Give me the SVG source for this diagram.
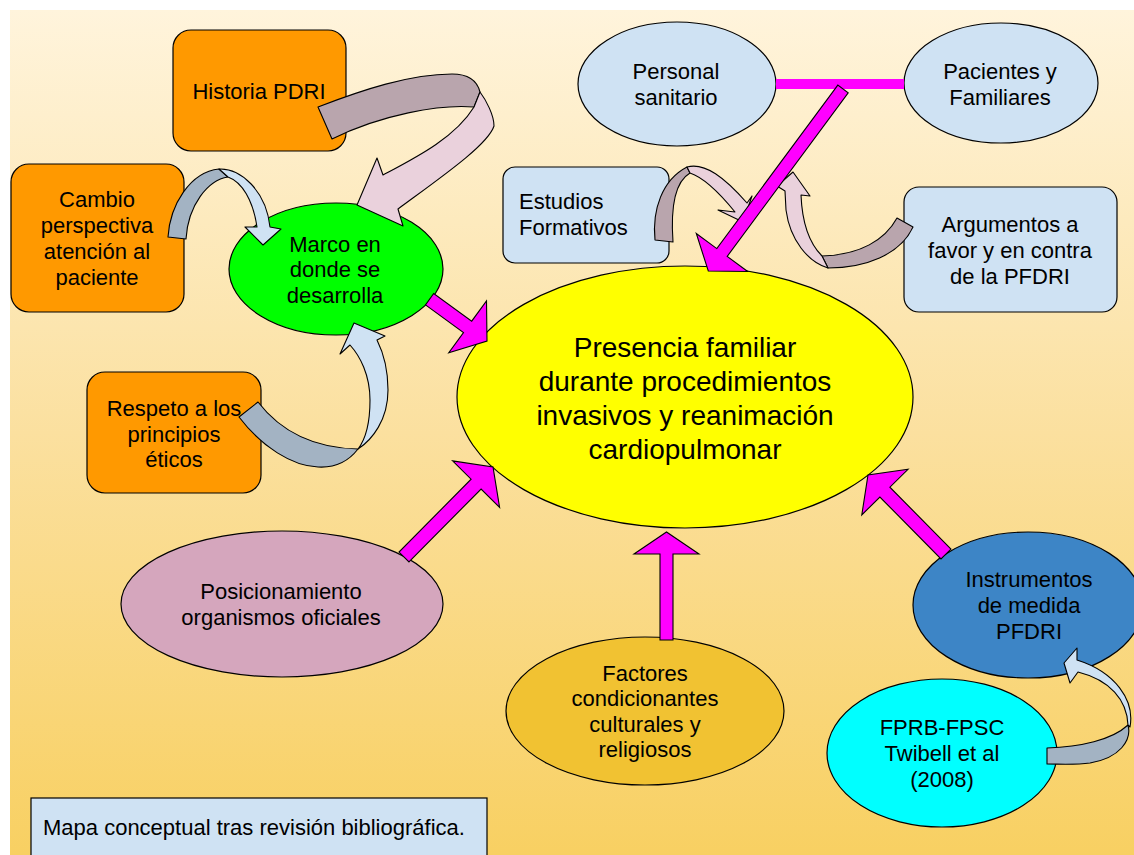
<svg xmlns="http://www.w3.org/2000/svg" width="1134" height="855" viewBox="0 0 1134 855">
  <defs>
    <linearGradient id="bg" x1="0" y1="0" x2="0" y2="1">
      <stop offset="0" stop-color="#fff4dc"/>
      <stop offset="0.5" stop-color="#fbe09f"/>
      <stop offset="1" stop-color="#f8d062"/>
    </linearGradient>
    <style>
      .node { stroke: #000; stroke-width: 1.2; }
      .lbl { font-family: "Liberation Sans", Arial, sans-serif; font-size: 22px; fill: #000; text-anchor: middle; }
      .big { font-size: 28px; }
      .left { text-anchor: start; }
      .orange { fill: #ff9900; }
      .pale { fill: #cfe2f3; }
      .arrow { fill: #ff00ff; stroke: #000; stroke-width: 1.1; stroke-linejoin: miter; }
      .c-back { fill: #b9a5ad; stroke: #000; stroke-width: 1.1; stroke-linejoin: round; }
      .c-front { fill: #ead1dc; stroke: #000; stroke-width: 1.1; stroke-linejoin: round; }
      .b-back { fill: #a3b3c3; stroke: #000; stroke-width: 1.1; stroke-linejoin: round; }
      .b-front { fill: #cfe2f3; stroke: #000; stroke-width: 1.1; stroke-linejoin: round; }
    </style>
  </defs>

  <!-- page -->
  <rect x="0" y="0" width="1134" height="855" fill="#ffffff"/>
  <rect x="10" y="10" width="1124" height="845" fill="url(#bg)"/>

  <!-- nodes -->
  <g id="central">
    <ellipse class="node" cx="685" cy="397" rx="228" ry="131" fill="#ffff00"/>
    <text class="lbl big" x="685"><tspan x="685" y="357">Presencia familiar</tspan><tspan x="685" y="391">durante procedimientos</tspan><tspan x="685" y="425">invasivos y reanimación</tspan><tspan x="685" y="459">cardiopulmonar</tspan></text>
  </g>

  <g id="historia">
    <rect class="node orange" x="173" y="30" width="173" height="121" rx="18"/>
    <text class="lbl" x="259" y="99">Historia PDRI</text>
  </g>

  <g id="cambio">
    <rect class="node orange" x="11" y="164" width="173" height="148" rx="18"/>
    <text class="lbl"><tspan x="97" y="207">Cambio</tspan><tspan x="97" y="233">perspectiva</tspan><tspan x="97" y="259">atención al</tspan><tspan x="97" y="285">paciente</tspan></text>
  </g>

  <g id="marco">
    <ellipse class="node" cx="336" cy="269" rx="107" ry="66" fill="#00ff00"/>
    <text class="lbl"><tspan x="335" y="252">Marco en</tspan><tspan x="335" y="277">donde se</tspan><tspan x="335" y="303">desarrolla</tspan></text>
  </g>

  <g id="respeto">
    <rect class="node orange" x="87" y="372" width="174" height="121" rx="18"/>
    <text class="lbl"><tspan x="174" y="416">Respeto a los</tspan><tspan x="174" y="442">principios</tspan><tspan x="174" y="467">éticos</tspan></text>
  </g>

  <g id="posicionamiento">
    <ellipse class="node" cx="282" cy="604" rx="161" ry="73" fill="#d5a6bd"/>
    <text class="lbl"><tspan x="281" y="599">Posicionamiento</tspan><tspan x="281" y="625">organismos oficiales</tspan></text>
  </g>

  <g id="factores">
    <ellipse class="node" cx="645" cy="711" rx="139" ry="74" fill="#f1c232"/>
    <text class="lbl"><tspan x="645" y="681">Factores</tspan><tspan x="645" y="706">condicionantes</tspan><tspan x="645" y="732">culturales y</tspan><tspan x="645" y="757">religiosos</tspan></text>
  </g>

  <g id="instrumentos">
    <ellipse class="node" cx="1028" cy="605" rx="115" ry="73" fill="#3d85c6"/>
    <text class="lbl"><tspan x="1029" y="587">Instrumentos</tspan><tspan x="1029" y="613">de medida</tspan><tspan x="1029" y="639">PFDRI</tspan></text>
  </g>

  <g id="fprb">
    <ellipse class="node" cx="942" cy="753" rx="115" ry="74" fill="#00ffff"/>
    <text class="lbl"><tspan x="942" y="735">FPRB-FPSC</tspan><tspan x="942" y="761">Twibell et al</tspan><tspan x="942" y="787">(2008)</tspan></text>
  </g>

  <g id="personal">
    <ellipse class="node pale" cx="677" cy="84" rx="99" ry="62"/>
    <text class="lbl"><tspan x="676" y="79">Personal</tspan><tspan x="676" y="105">sanitario</tspan></text>
  </g>

  <g id="pacientes">
    <ellipse class="node pale" cx="1001" cy="83" rx="97" ry="60"/>
    <text class="lbl"><tspan x="1000" y="79">Pacientes y</tspan><tspan x="1000" y="105">Familiares</tspan></text>
  </g>

  <g id="estudios">
    <rect class="node pale" x="503" y="167" width="166" height="96" rx="12"/>
    <text class="lbl left"><tspan x="519" y="209">Estudios</tspan><tspan x="519" y="235">Formativos</tspan></text>
  </g>

  <g id="argumentos">
    <rect class="node pale" x="904" y="187" width="213" height="125" rx="15"/>
    <text class="lbl"><tspan x="1010" y="232">Argumentos a</tspan><tspan x="1010" y="258">favor y en contra</tspan><tspan x="1010" y="284">de la PFDRI</tspan></text>
  </g>

  <g id="caption">
    <rect class="node pale" x="31" y="798" width="456" height="70"/>
    <text class="lbl left" x="43" y="835">Mapa conceptual tras revisión bibliográfica.</text>
  </g>

  <!-- connectors -->
  <g id="connectors">
    <!-- curved ribbon arrows: back face, then front face with head -->
    <path class="c-back" d="M318,107 C362,90 410,74 452,74 C467,74 477,80 480,92 L474,107 C440,104 380,115 332,139 Z"/>
    <path class="c-front" d="M480,92 C486,100 494,115 494,126 C488,145 440,178 398,209 L403,226 L357,205 L377,158 L383,175 C415,158 455,138 474,107 Z"/>

    <path class="b-back" d="M168,237 C170,205 190,172 219,169 L228,177 C208,180 188,205 186,239 Z"/>
    <path class="b-front" d="M219,169 C240,168 266,190 270,227 L281,229 L263,245 L245,227 L257,227 C253,200 242,182 228,177 Z"/>

    <path class="b-back" d="M239,417 L258,402 C278,428 310,448 358,449 C348,462 335,468 318,467 C292,466 262,447 239,417 Z"/>
    <path class="b-front" d="M358,449 C372,440 388,420 388,390 C388,370 383,352 377,340 L385,336 L354,323 L340,354 L350,345 C360,356 370,375 370,400 C370,425 365,440 358,449 Z"/>

    <path class="c-back" d="M655,240 C652,210 662,180 687,167 L690,173 C678,180 670,200 673,242 Z"/>
    <path class="c-front" d="M687,167 C705,162 725,178 747,203 L752,196 L743,222 L718,210 L735,212 C722,196 705,178 690,173 Z"/>

    <path class="c-back" d="M897,218 C885,240 860,255 822,256 L828,268 C865,268 900,255 913,227 Z"/>
    <path class="c-front" d="M828,268 C808,262 790,240 786,210 L785,191 L777,186 L793,172 L810,196 L801,195 C802,220 808,242 822,256 Z"/>

    <path class="b-back" d="M1047,748 C1080,747 1112,740 1128,725 C1132,740 1120,758 1090,763 C1075,765 1060,764 1047,764 Z"/>
    <path class="b-front" d="M1130,727 C1135,700 1115,672 1077,660 L1077,648 L1064,663 L1070,683 L1078,672 C1110,680 1127,700 1128,725 Z"/>

    <!-- straight block arrows -->
    <rect x="776" y="79" width="128" height="10" fill="#ff00ff"/>
    <polygon class="arrow" points="837.8,85.1 716.8,248.6 696.3,233.5 708.3,271 747.7,271.5 727.2,256.4 848.2,92.9"/>
    <polygon class="arrow" points="425.5,304.9 463.5,332.6 448.8,352.8 487,341 486.5,301 471.7,321.2 433.7,293.5"/>
    <polygon class="arrow" points="409,561.9 481.1,489 499.6,507.3 493,467 452.6,460.9 471.1,479.2 399,552.1"/>
    <polygon class="arrow" points="660,640 660,554 634,554 666.5,532 699,554 673,554 673,640"/>
    <polygon class="arrow" points="951,549.1 889.9,487.2 908,469.3 868,475 861.8,514.9 879.9,497 941,558.9"/>
  </g>
</svg>
